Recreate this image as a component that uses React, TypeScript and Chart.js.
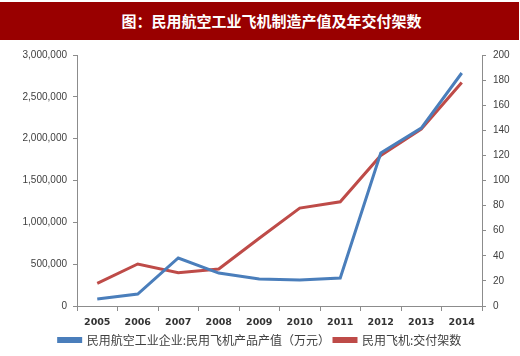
import React, { useEffect, useRef } from "react";
import { Chart, registerables } from "chart.js";

Chart.register(...registerables);

const TITLE = "图：民用航空工业飞机制造产值及年交付架数";
const categories = ["2005", "2006", "2007", "2008", "2009", "2010", "2011", "2012", "2013", "2014"];
const outputLabel = "民用航空工业企业:民用飞机产品产值（万元）";
const outputValues = [84000, 143000, 574000, 394000, 323000, 311000, 335000, 1829000, 2127000, 2785000];
const deliveryLabel = "民用飞机:交付架数";
const deliveryValues = [18, 33.5, 26.5, 29.5, 54, 78, 83, 120, 141, 178];

const leftTicks = [0, 500000, 1000000, 1500000, 2000000, 2500000, 3000000];
const rightTicks = [0, 20, 40, 60, 80, 100, 120, 140, 160, 180, 200];

const BLUE = "#4a7ebb";
const RED = "#be4b48";
const AXIS = "#8c8c8c";
const TEXT = "#404040";

export default function App() {
  const ref = useRef<HTMLCanvasElement | null>(null);

  useEffect(() => {
    if (!ref.current) return;
    const chart = new Chart(ref.current, {
      type: "line",
      data: {
        labels: categories,
        datasets: [
          {
            label: outputLabel,
            data: outputValues,
            borderColor: BLUE,
            backgroundColor: BLUE,
            borderWidth: 3,
            pointRadius: 0,
            tension: 0,
            yAxisID: "y",
          },
          {
            label: deliveryLabel,
            data: deliveryValues,
            borderColor: RED,
            backgroundColor: RED,
            borderWidth: 3,
            pointRadius: 0,
            tension: 0,
            yAxisID: "y1",
          },
        ],
      },
      options: {
        animation: false,
        responsive: false,
        maintainAspectRatio: false,
        layout: { padding: { top: 15, left: 0, right: 0, bottom: 0 } },
        plugins: {
          title: { display: false },
          tooltip: { enabled: false },
          legend: {
            position: "bottom",
            labels: {
              boxWidth: 22,
              boxHeight: 3,
              padding: 4,
              color: TEXT,
              font: { family: "'Noto Sans CJK SC', sans-serif", size: 12 },
            },
          },
        },
        scales: {
          x: {
            offset: true,
            afterFit: (s: any) => {
              s.height = 24;
            },
            grid: {
              offset: true,
              drawOnChartArea: false,
              drawTicks: true,
              tickLength: 5,
              color: AXIS,
            },
            border: { display: true, color: AXIS, width: 1 },
            ticks: {
              color: "#333",
              padding: 6,
              maxRotation: 0,
              font: { family: "'DejaVu Sans', sans-serif", size: 9.5, weight: "bold" },
            },
          },
          y: {
            position: "left",
            min: 0,
            max: 3000000,
            afterFit: (s: any) => {
              s.width = 77;
            },
            afterBuildTicks: (s: any) => {
              s.ticks = leftTicks.map((v) => ({ value: v }));
            },
            grid: {
              drawOnChartArea: false,
              drawTicks: true,
              tickLength: 4,
              color: AXIS,
            },
            border: { display: true, color: AXIS, width: 1 },
            ticks: {
              color: TEXT,
              padding: 6,
              font: { family: "'Liberation Sans', sans-serif", size: 10 },
              callback: (v: any) => Number(v).toLocaleString("en-US"),
            },
          },
          y1: {
            position: "right",
            min: 0,
            max: 200,
            afterFit: (s: any) => {
              s.width = 38;
            },
            afterBuildTicks: (s: any) => {
              s.ticks = rightTicks.map((v) => ({ value: v }));
            },
            grid: {
              drawOnChartArea: false,
              drawTicks: true,
              tickLength: 4,
              color: AXIS,
            },
            border: { display: true, color: AXIS, width: 1 },
            ticks: {
              color: TEXT,
              padding: 7,
              font: { family: "'Liberation Sans', sans-serif", size: 10 },
            },
          },
        },
      },
    });
    return () => chart.destroy();
  }, []);

  return (
    <div
      style={{
        position: "fixed",
        left: 0,
        top: 0,
        width: 520,
        height: 356,
        background: "#ffffff",
        overflow: "hidden",
      }}
    >
      <div
        style={{
          position: "absolute",
          left: 0,
          top: 2,
          width: 519,
          height: 38,
          background: "#990000",
          color: "#ffffff",
          fontFamily: "'Noto Sans CJK SC', sans-serif",
          fontWeight: 700,
          fontSize: 15,
          lineHeight: "38px",
          textAlign: "center",
          paddingLeft: 24,
          boxSizing: "border-box",
        }}
      >
        {TITLE}
      </div>
      <canvas
        ref={ref}
        width={520}
        height={316}
        style={{ position: "absolute", left: 0, top: 40, width: 520, height: 316 }}
      />
    </div>
  );
}
